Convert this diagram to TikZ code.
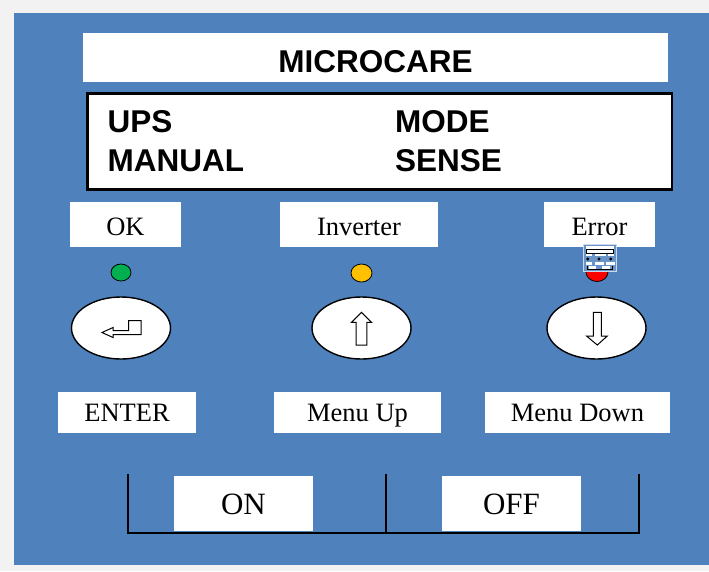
\documentclass[tikz,border=0pt]{standalone}
\usepackage{fontspec}
\setmainfont{Liberation Serif}
\newfontfamily\arialf{Liberation Sans}
\usetikzlibrary{shapes.geometric}
\definecolor{panel}{HTML}{4F81BD}
\definecolor{pagebg}{HTML}{F2F2F2}
\definecolor{ledgreen}{HTML}{00B050}
\definecolor{ledyellow}{HTML}{FFC000}
\definecolor{ledred}{HTML}{FF0000}
\begin{document}
\begin{tikzpicture}[x=1pt,y=-1pt,
  wbox/.style={fill=white, draw=none, inner sep=0pt, outer sep=0pt, anchor=north west},
  lbl/.style={font=\fontsize{26.5}{26.5}\selectfont, inner sep=0pt, anchor=base},
  biglbl/.style={font=\fontsize{31}{31}\selectfont, inner sep=0pt, anchor=base},
  lcdtxt/.style={font=\arialf\bfseries\fontsize{31.5}{31.5}\selectfont, inner sep=0pt},
  led/.style={ellipse, draw=black, line width=0.8pt, minimum width=20pt, minimum height=17pt, inner sep=0pt},
  button/.style={ellipse, draw=black, fill=white, line width=1.4pt, minimum width=99pt, minimum height=62pt, inner sep=0pt},
  sym/.style={draw=black, fill=white, line width=1pt, line join=miter},
  bracket/.style={draw=black, line width=1.6pt}]
\useasboundingbox (0,0) rectangle (709,571);
\fill[pagebg] (0,0) rectangle (709,571);
\fill[panel] (14,13) rectangle (709,565);

% title
\node[wbox, minimum width=585pt, minimum height=49pt] (title) at (83,33) {};
\node[lcdtxt, anchor=base] (titletxt) at (375.5,72) {MICROCARE};

% LCD
\node[fill=white, draw=black, line width=2.7pt, anchor=north west, minimum width=584.7pt, minimum height=95.7pt, inner sep=0pt] (lcd) at (86,92.3) {};
\node[lcdtxt, anchor=base west] (ups) at (107.5,132) {UPS};
\node[lcdtxt, anchor=base west] (mode) at (395,132) {MODE};
\node[lcdtxt, anchor=base west] (manual) at (107.5,171) {MANUAL};
\node[lcdtxt, anchor=base west] (sense) at (395,171) {SENSE};

% top labels
\node[wbox, minimum width=111pt, minimum height=45pt] (okbox) at (70,202) {};
\node[lbl] (oktxt) at (125.5,235) {OK};
\node[wbox, minimum width=158pt, minimum height=45pt] (invbox) at (280,202) {};
\node[lbl] (invtxt) at (359,235) {Inverter};
\node[wbox, minimum width=111pt, minimum height=45pt] (errbox) at (544,202) {};
\node[lbl] (errtxt) at (599.5,235) {Error};

% LEDs
\node[led, fill=ledgreen] (ledok) at (121,272.5) {};
\node[led, fill=ledyellow, minimum width=21pt, minimum height=18pt] (ledinv) at (361.5,273) {};
\node[led, fill=ledred, minimum width=22pt, minimum height=19pt] (lederr) at (597,272) {};

% small thumbnail over the error LED
\begin{scope}
\fill[panel!85!white] (583,244) rectangle (616,271);
\draw[white!70!panel, line width=0.6pt] (583,244) rectangle (616,271);
\fill[white] (585.7,245.8) rectangle (613.7,248.5);
\draw[black, line width=0.5pt, fill=white] (586,249) rectangle (613.5,253);
\fill[white] (585.7,253.8) rectangle (591.7,255.8);
\fill[white] (595,253.8) rectangle (605.7,255.8);
\fill[white] (608,253.8) rectangle (614,255.8);
\fill[black] (587.7,259) circle (1.6pt);
\fill[black] (599,259) circle (1.6pt);
\fill[black] (610.7,259) circle (1.6pt);
\fill[white] (585.7,262.3) rectangle (592.3,264.7);
\fill[white] (595,262.3) rectangle (604.3,264.7);
\fill[white] (605.7,262.3) rectangle (614.7,264.7);
\fill[white] (589.3,266) rectangle (596,268.8);
\fill[white] (602.3,266) rectangle (610,268.8);
\draw[black, line width=0.4pt] (587,266) -- (587,269.3) -- (612,269.3) -- (612,266);
\end{scope}

% buttons
\node[button] (enter) at (121,328) {};
\node[button] (up) at (361.5,328) {};
\node[button] (down) at (596.5,328) {};

% enter symbol
\draw[sym] (102,332.5) -- (113,327.5) -- (113,330.5) -- (128.5,330.5) -- (128.5,320.5)
  -- (141,320.5) -- (141,334.5) -- (113,334.5) -- (113,337.5) -- cycle;
% up arrow
\draw[sym] (361.5,312.3) -- (371.5,322.3) -- (366.8,322.3) -- (366.8,345) -- (356.2,345)
  -- (356.2,322.3) -- (351.5,322.3) -- cycle;
% down arrow
\draw[sym] (593.3,312.3) -- (601.3,312.3) -- (601.3,336) -- (607.3,336) -- (597.3,345)
  -- (586.5,336) -- (593.3,336) -- cycle;

% bottom labels
\node[wbox, minimum width=138pt, minimum height=41pt] (enterbox) at (58,392) {};
\node[lbl] (entertxt) at (127,421) {ENTER};
\node[wbox, minimum width=167pt, minimum height=41pt] (upbox) at (274,392) {};
\node[lbl] (uptxt) at (357.5,421) {Menu Up};
\node[wbox, minimum width=185pt, minimum height=41pt] (downbox) at (485,392) {};
\node[lbl] (downtxt) at (577.5,421) {Menu Down};

% switch bracket
\coordinate (ltop) at (128,474);
\coordinate (lbot) at (128,533);
\coordinate (mtop) at (386,474);
\coordinate (mbot) at (386,533);
\coordinate (rtop) at (639,474);
\coordinate (rbot) at (639,533);
\node[wbox, minimum width=139pt, minimum height=55pt] (onbox) at (174,476) {};
\node[biglbl] (ontxt) at (243.5,514) {ON};
\node[wbox, minimum width=139pt, minimum height=55pt] (offbox) at (442,476) {};
\node[biglbl] (offtxt) at (511.5,514) {OFF};
\draw[bracket] (ltop) -- (lbot) -- (rbot) -- (rtop);
\draw[bracket] (mtop) -- (mbot);
\end{tikzpicture}
\end{document}
